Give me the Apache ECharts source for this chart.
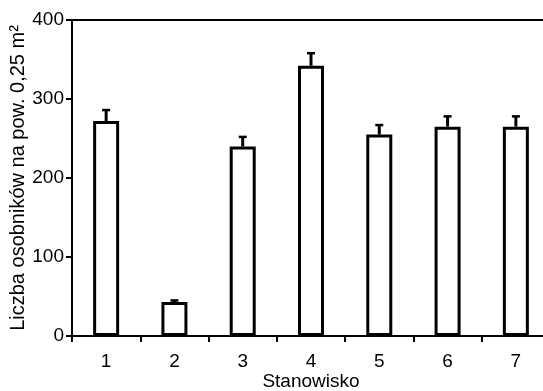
<!DOCTYPE html>
<html>
<head>
<meta charset="utf-8">
<script src="https://cdn.jsdelivr.net/npm/echarts@6/dist/echarts.min.js"></script>
<style>html,body{margin:0;padding:0;background:#fff}#c{width:543px;height:391px}</style>
</head>
<body>
<div id="c"></div>
<script>
var categories = ['1', '2', '3', '4', '5', '6', '7'];
var means = [272, 43, 240, 342, 255, 265, 265];
var errors = [14, 2, 12, 16, 12, 13, 13];
var yTicks = { min: 0, max: 400, interval: 100 };

var font = 'Liberation Sans, Arial, sans-serif';
var chart = echarts.init(document.getElementById('c'), null, { renderer: 'canvas' });
var errData = means.map(function (m, i) { return [i, m, m + errors[i]]; });

chart.setOption({
  animation: false,
  backgroundColor: '#fff',
  grid: { left: 72, right: -7, top: 20, bottom: 55, outerBoundsMode: 'none', containLabel: false, show: false },
  xAxis: [{
    type: 'category',
    data: categories,
    boundaryGap: true,
    name: 'Stanowisko',
    nameLocation: 'middle',
    nameGap: 36,
    nameMoveOverlap: false,
    nameTextStyle: { color: '#000', fontSize: 19, fontFamily: font },
    axisLine: { lineStyle: { color: '#000', width: 2 } },
    axisTick: { show: true, interval: 0, length: 6, lineStyle: { color: '#000', width: 2 } },
    axisLabel: { color: '#000', fontSize: 19, fontFamily: font, margin: 16, interval: 0 },
    splitLine: { show: false }
  }, {
    type: 'category',
    data: categories,
    position: 'top',
    axisLine: { show: true, lineStyle: { color: '#000', width: 2 } },
    axisTick: { show: false },
    axisLabel: { show: false },
    splitLine: { show: false }
  }],
  yAxis: {
    type: 'value',
    min: yTicks.min,
    max: yTicks.max,
    interval: yTicks.interval,
    name: 'Liczba osobników na pow. 0,25 m²',
    nameLocation: 'middle',
    nameGap: 44,
    nameMoveOverlap: false,
    nameTextStyle: { color: '#000', fontSize: 20, fontFamily: font },
    axisLine: { show: true, lineStyle: { color: '#000', width: 2 } },
    axisTick: { show: true, length: 6, lineStyle: { color: '#000', width: 2 } },
    axisLabel: { color: '#000', fontSize: 19, fontFamily: font, margin: 8 },
    splitLine: { show: false }
  },
  series: [
    {
      type: 'bar',
      data: means,
      barWidth: 26,
      itemStyle: { color: '#fff', borderColor: '#000', borderWidth: 3 },
      z: 2
    },
    {
      type: 'custom',
      data: errData,
      z: 3,
      renderItem: function (params, api) {
        var x = api.value(0);
        var p0 = api.coord([x, api.value(1)]);
        var p1 = api.coord([x, api.value(2)]);
        return {
          type: 'group',
          children: [
            { type: 'line', shape: { x1: p0[0], y1: p0[1], x2: p1[0], y2: p1[1] }, style: { stroke: '#000', lineWidth: 3 } },
            { type: 'line', shape: { x1: p1[0] - 4, y1: p1[1], x2: p1[0] + 4, y2: p1[1] }, style: { stroke: '#000', lineWidth: 2.5 } }
          ]
        };
      }
    }
  ]
});
</script>
</body>
</html>
